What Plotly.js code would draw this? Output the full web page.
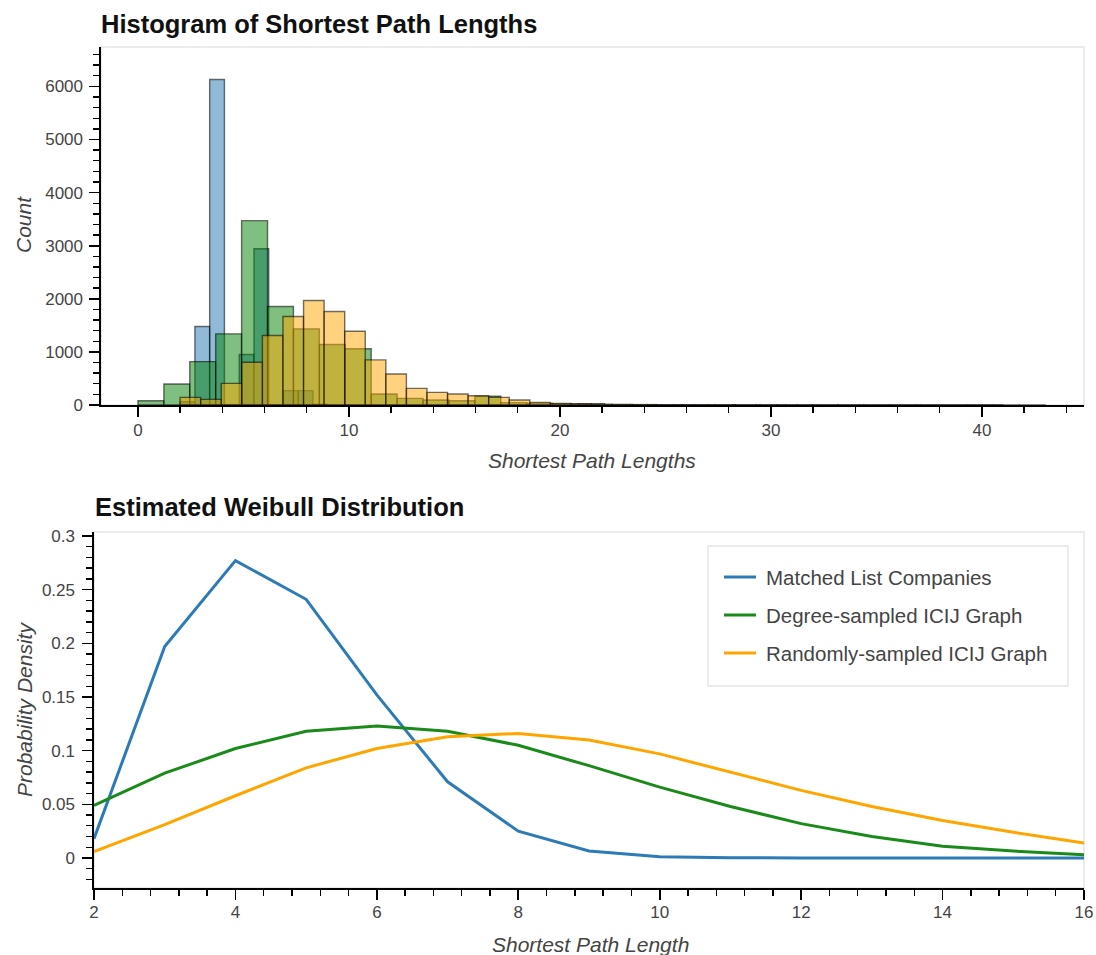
<!DOCTYPE html>
<html>
<head>
<meta charset="utf-8">
<script src="https://cdn.plot.ly/plotly-3.0.1.min.js"></script>
<style>
  html, body { margin: 0; padding: 0; background: #ffffff; }
  #chart { width: 1096px; height: 955px; }
</style>
</head>
<body>
<div id="chart"></div>
<script>
// ---- Series ----
const seriesNames = ['Matched List Companies', 'Degree-sampled ICIJ Graph', 'Randomly-sampled ICIJ Graph'];

// ---- Histogram of shortest path lengths (bin edges + counts per series) ----
const matchedBinEdges = [2.0, 2.7, 3.4, 4.1, 4.8, 5.5, 6.2, 6.9, 7.6, 8.3, 9.0];
const matchedCounts   = [60, 1477, 6130, 0, 950, 2943, 0, 270, 270, 15];

const degreeBinEdges = [0, 1.229, 2.457, 3.686, 4.914, 6.143, 7.371, 8.6, 9.829, 11.057,
  12.286, 13.514, 14.743, 15.971, 17.2, 18.429, 19.657, 20.886, 22.114, 23.343,
  24.571, 25.8, 27.029, 28.257, 29.486, 30.714, 31.943, 33.171, 34.4, 35.629,
  36.857, 38.086, 39.314, 40.543, 41.771, 43.0];
const degreeCounts = [81, 396, 817, 1340, 3472, 1855, 1434, 1138, 1060, 208,
  125, 95, 80, 165, 45, 30, 22, 25, 10, 8,
  6, 5, 4, 3, 3, 2, 2, 1, 1, 1,
  1, 0, 1, 0, 1];

const randomBinEdges = [2.0, 2.975, 3.95, 4.925, 5.9, 6.875, 7.85, 8.825, 9.8, 10.775,
  11.75, 12.725, 13.7, 14.675, 15.65, 16.625, 17.6, 18.575, 19.55, 20.525,
  21.5, 22.475, 23.45, 24.425, 25.4, 26.375, 27.35, 28.325, 29.3, 30.275,
  31.25, 32.225, 33.2, 34.175, 35.15, 36.125, 37.1, 38.075, 39.05, 40.025, 41.0];
const randomCounts = [144, 106, 408, 804, 1308, 1666, 1968, 1760, 1389, 849,
  585, 313, 238, 208, 175, 144, 94, 50, 30, 20,
  12, 8, 5, 4, 3, 2, 2, 1, 1, 1,
  1, 0, 1, 0, 0, 1, 0, 0, 0, 1];

// ---- Estimated Weibull densities ----
const pathLength = [2, 3, 4, 5, 6, 7, 8, 9, 10, 11, 12, 13, 14, 15, 16];
const matchedDensity = [0.018, 0.197, 0.277, 0.241, 0.152, 0.071, 0.025, 0.0065, 0.0012, 0.0003, 0.0001, 0, 0, 0, 0];
const degreeDensity  = [0.049, 0.079, 0.102, 0.118, 0.123, 0.118, 0.105, 0.086, 0.066, 0.048, 0.032, 0.020, 0.011, 0.0065, 0.003];
const randomDensity  = [0.006, 0.031, 0.058, 0.084, 0.102, 0.113, 0.116, 0.110, 0.097, 0.080, 0.063, 0.048, 0.035, 0.024, 0.014];

// ---- Styling ----
const fillColors = ['rgba(31,119,180,0.5)', 'rgba(0,128,0,0.5)', 'rgba(255,165,0,0.5)'];
const lineColors = ['#2c7bb6', '#1a8a1a', '#ffa500'];
const FONT = 'Liberation Sans, Arial, Helvetica, sans-serif';
const W = 1096, H = 955;
const px = v => v / W;          // horizontal pixel -> paper fraction
const py = v => 1 - v / H;      // vertical pixel -> paper fraction

function histTrace(edges, counts, idx) {
  const centers = counts.map((_, i) => (edges[i] + edges[i + 1]) / 2);
  const widths = counts.map((_, i) => edges[i + 1] - edges[i]);
  return {
    type: 'bar', x: centers, y: counts, width: widths,
    xaxis: 'x', yaxis: 'y', name: seriesNames[idx], showlegend: false,
    marker: { color: fillColors[idx], line: { color: 'rgba(0,0,0,0.55)', width: 1.4 } },
    hoverinfo: 'x+y'
  };
}

function lineTrace(ys, idx) {
  return {
    type: 'scatter', mode: 'lines', x: pathLength, y: ys,
    xaxis: 'x2', yaxis: 'y2', name: seriesNames[idx], showlegend: false,
    line: { color: lineColors[idx], width: 3 }
  };
}

const traces = [
  histTrace(matchedBinEdges, matchedCounts, 0),
  histTrace(degreeBinEdges, degreeCounts, 1),
  histTrace(randomBinEdges, randomCounts, 2),
  lineTrace(matchedDensity, 0),
  lineTrace(degreeDensity, 1),
  lineTrace(randomDensity, 2)
];

const tickFont = { family: FONT, size: 17, color: '#444444' };
const axisCommon = {
  showgrid: false, zeroline: false, showline: true,
  linecolor: '#000000', linewidth: 1.6,
  ticks: 'outside', ticklen: 10, tickwidth: 1.6, tickcolor: '#000000',
  tickfont: tickFont, fixedrange: true
};

const layout = {
  width: W, height: H,
  margin: { l: 0, r: 0, t: 0, b: 0 },
  paper_bgcolor: '#ffffff', plot_bgcolor: '#ffffff',
  barmode: 'overlay', bargap: 0,
  showlegend: false,
  xaxis: Object.assign({}, axisCommon, {
    domain: [px(101), px(1084)], anchor: 'y', range: [-1.75, 44.84],
    dtick: 10, tick0: 0, ticklabelstandoff: -1,
    minor: { dtick: 2, ticks: 'outside', ticklen: 6, tickwidth: 1.4, tickcolor: '#000000' }
  }),
  yaxis: Object.assign({}, axisCommon, {
    domain: [py(405), py(47)], anchor: 'x', range: [0, 6742],
    dtick: 1000, tick0: 0, ticklabelstandoff: 3,
    minor: { dtick: 200, ticks: 'outside', ticklen: 6, tickwidth: 1.4, tickcolor: '#000000' }
  }),
  xaxis2: Object.assign({}, axisCommon, {
    domain: [px(94), px(1084)], anchor: 'y2', range: [2, 16],
    dtick: 2, tick0: 0, ticklabelstandoff: -2,
    minor: { dtick: 0.4, ticks: 'outside', ticklen: 6, tickwidth: 1.4, tickcolor: '#000000' }
  }),
  yaxis2: Object.assign({}, axisCommon, {
    domain: [py(888), py(532)], anchor: 'x2', range: [-0.02795, 0.3037],
    dtick: 0.05, tick0: 0, ticklabelstandoff: 4,
    minor: { dtick: 0.01, ticks: 'outside', ticklen: 6, tickwidth: 1.4, tickcolor: '#000000' }
  }),
  shapes: [
    // light frame around each plot area
    { type: 'rect', xref: 'x domain', yref: 'y domain', x0: 0, x1: 1, y0: 0, y1: 1,
      line: { color: '#e5e5e5', width: 1.5 }, layer: 'below' },
    { type: 'rect', xref: 'x2 domain', yref: 'y2 domain', x0: 0, x1: 1, y0: 0, y1: 1,
      line: { color: '#e5e5e5', width: 1.5 }, layer: 'below' },
    // legend box
    { type: 'rect', xref: 'paper', yref: 'paper', x0: px(708), x1: px(1068), y0: py(686), y1: py(546),
      line: { color: '#e5e5e5', width: 1.5 }, fillcolor: '#ffffff', layer: 'above' }
  ],
  annotations: [
    { text: '<b>Histogram of Shortest Path Lengths</b>', xref: 'paper', yref: 'paper',
      x: px(99), y: py(24), xanchor: 'left', yanchor: 'middle', showarrow: false,
      font: { family: FONT, size: 25.5, color: '#111111' } },
    { text: '<b>Estimated Weibull Distribution</b>', xref: 'paper', yref: 'paper',
      x: px(93), y: py(507), xanchor: 'left', yanchor: 'middle', showarrow: false,
      font: { family: FONT, size: 25.5, color: '#111111' } },
    { text: '<i>Shortest Path Lengths</i>', xref: 'paper', yref: 'paper',
      x: px(592), y: py(461), xanchor: 'center', yanchor: 'middle', showarrow: false,
      font: { family: FONT, size: 21, color: '#444444' } },
    { text: '<i>Count</i>', xref: 'paper', yref: 'paper', textangle: -90,
      x: px(24), y: py(225), xanchor: 'center', yanchor: 'middle', showarrow: false,
      font: { family: FONT, size: 21, color: '#444444' } },
    { text: '<i>Shortest Path Length</i>', xref: 'paper', yref: 'paper',
      x: px(590), y: py(944), xanchor: 'center', yanchor: 'middle', showarrow: false,
      font: { family: FONT, size: 21, color: '#444444' } },
    { text: '<i>Probability Density</i>', xref: 'paper', yref: 'paper', textangle: -90,
      x: px(24), y: py(710), xanchor: 'center', yanchor: 'middle', showarrow: false,
      font: { family: FONT, size: 21, color: '#444444' } }
  ]
};

// legend entries for the density lines
const legendRows = [577, 615, 653];
seriesNames.forEach((name, i) => {
  layout.shapes.push({
    type: 'line', xref: 'paper', yref: 'paper',
    x0: px(724), x1: px(756), y0: py(legendRows[i]), y1: py(legendRows[i]),
    line: { color: lineColors[i], width: 3 }, layer: 'above'
  });
  layout.annotations.push({
    text: name, xref: 'paper', yref: 'paper', x: px(764), y: py(legendRows[i]),
    xanchor: 'left', yanchor: 'middle', showarrow: false,
    font: { family: FONT, size: 20.5, color: '#444444' }
  });
});

Plotly.newPlot('chart', traces, layout, { displayModeBar: false, staticPlot: true });
</script>
</body>
</html>
